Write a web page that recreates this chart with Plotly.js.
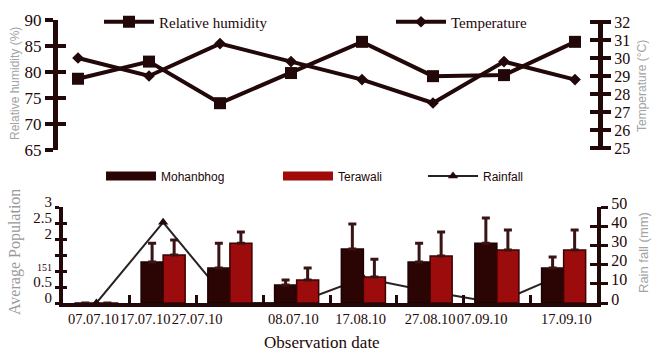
<!DOCTYPE html>
<html><head><meta charset="utf-8">
<script src="https://cdn.plot.ly/plotly-3.0.1.min.js"></script>
<style>html,body{margin:0;padding:0;background:#fff}#chart{width:652px;height:352px}</style>
</head><body><div id="chart"></div>
<script>
// ---- data ----
const dates = ["07.07.10","17.07.10","27.07.10","08.07.10","17.08.10","27.08.10","07.09.10","17.09.10"];
const humidity = [78.7, 82, 74, 79.8, 85.8, 79.2, 79.4, 85.8];        // %
const temperature = [30.0, 29.0, 30.8, 29.8, 28.8, 27.5, 29.8, 28.8]; // °C
const mohanbhog = [0, 1.28, 1.09, 0.56, 1.69, 1.28, 1.87, 1.09];
const mohanbhogErr = [0, 0.59, 0.78, 0.16, 0.78, 0.59, 0.79, 0.35];
const terawali = [0, 1.5, 1.87, 0.72, 0.81, 1.47, 1.66, 1.66];
const terawaliErr = [0, 0.47, 0.35, 0.37, 0.56, 0.75, 0.62, 0.62];
const rainfall = [0, 42, 0, 0, 13, 6, 0, 15];                         // mm
const rhTicks = [65, 70, 75, 80, 85, 90];
const tempTicks = [25, 26, 27, 28, 29, 30, 31, 32];
const popTicks = [0, 0.5, 1, 1.5, 2, 2.5, 3];
const popTickText = ["0", "0.5", '<span style="font-size:10px">151</span>', "", "2", "2.5", "3"];
const rainTicks = [0, 10, 20, 30, 40, 50];

// ---- styling ----
const W = 652, H = 352;
const px = p => p / W, py = p => 1 - p / H;
const dark = '#220808';
const serif = 'Liberation Serif, Times New Roman, serif';
const sans = 'Liberation Sans, Arial, sans-serif';
const idx = dates.map((d, i) => i);
const zeros = dates.map(() => 0);

const traces = [
  {type:'scatter', mode:'lines+markers', name:'Relative humidity', x: idx, y: humidity,
   xaxis:'x', yaxis:'y', line:{color:dark, width:4}, marker:{symbol:'square', size:12, color:dark},
   legend:'legend', hoverinfo:'skip'},
  {type:'scatter', mode:'lines+markers', name:'Temperature', x: idx, y: temperature,
   xaxis:'x', yaxis:'y2', line:{color:dark, width:4}, marker:{symbol:'diamond', size:9, color:dark},
   legend:'legend2', hoverinfo:'skip'},
  // bottom panel: rainfall on base axis (drawn behind bars)
  {type:'scatter', mode:'lines+markers', name:'Rainfall', x: idx, y: rainfall,
   xaxis:'x2', yaxis:'y3', line:{color:'#2a2222', width:2}, marker:{symbol:'triangle-up', size:9, color:dark},
   legend:'legend5', hoverinfo:'skip', cliponaxis:false},
  {type:'bar', name:'Mohanbhog', x: idx, y: mohanbhog, xaxis:'x2', yaxis:'y4',
   marker:{color:'#2b0404', line:{color:'#1c0202', width:1.5}},
   error_y:{type:'data', symmetric:false, array: mohanbhogErr, arrayminus: zeros, color:'#3a1414', thickness:3, width:4},
   showlegend:false, hoverinfo:'skip'},
  {type:'bar', name:'Terawali', x: idx, y: terawali, xaxis:'x2', yaxis:'y4',
   marker:{color:'#9c0c0c', line:{color:'#3a0303', width:1.5}},
   error_y:{type:'data', symmetric:false, array: terawaliErr, arrayminus: zeros, color:'#3a1414', thickness:3, width:4},
   showlegend:false, hoverinfo:'skip'},
  // legend swatches for the bar series
  {type:'scatter', mode:'lines', name:'Mohanbhog', x:[null], y:[null], xaxis:'x2', yaxis:'y4',
   line:{color:'#2b0404', width:9}, legend:'legend3', hoverinfo:'skip'},
  {type:'scatter', mode:'lines', name:'Terawali', x:[null], y:[null], xaxis:'x2', yaxis:'y4',
   line:{color:'#a00a0a', width:9}, legend:'legend4', hoverinfo:'skip'},
  // carriers for inward tick halves
  {type:'scatter', x:[], y:[], xaxis:'x', yaxis:'y5', showlegend:false, hoverinfo:'skip'},
  {type:'scatter', x:[], y:[], xaxis:'x', yaxis:'y6', showlegend:false, hoverinfo:'skip'},
  {type:'scatter', x:[], y:[], xaxis:'x2', yaxis:'y7', showlegend:false, hoverinfo:'skip'},
  {type:'scatter', x:[], y:[], xaxis:'x2', yaxis:'y8', showlegend:false, hoverinfo:'skip'}
];

const axBase = {showgrid:false, zeroline:false, showline:true, linecolor:dark, tickcolor:dark, fixedrange:true};
const topDom = [py(150), py(20)];
const botDom = [py(303), py(207)];
const legBase = {bgcolor:'rgba(0,0,0,0)', borderwidth:0, xanchor:'left', yanchor:'middle', itemwidth:50,
                 itemclick:false, itemdoubleclick:false};

const layout = {
  width: W, height: H, margin:{l:0, r:0, t:0, b:0}, paper_bgcolor:'#fff', plot_bgcolor:'rgba(0,0,0,0)',
  barmode:'group', bargap:0.34, bargroupgap:0, hovermode:false,
  font:{family:serif, color:dark},
  xaxis:{domain:[px(58), px(598)], anchor:'y', range:[-0.282, 7.324], visible:false, fixedrange:true},
  yaxis:Object.assign({}, axBase, {domain:topDom, anchor:'x', side:'left', range:[65, 90], tickmode:'array', tickvals:rhTicks,
        ticks:'outside', ticklen:8, tickwidth:4, linewidth:5, tickfont:{family:serif, size:17, color:dark}}),
  yaxis2:Object.assign({}, axBase, {overlaying:'y', anchor:'x', side:'right', range:[24.89, 32.11], tickmode:'array', tickvals:tempTicks,
        ticks:'outside', ticklen:8, tickwidth:4, linewidth:5, tickfont:{family:serif, size:16, color:dark}}),
  yaxis5:Object.assign({}, axBase, {overlaying:'y', anchor:'x', side:'left', range:[65, 90], tickmode:'array', tickvals:rhTicks,
        ticks:'inside', ticklen:8, tickwidth:4, showline:false, showticklabels:false}),
  yaxis6:Object.assign({}, axBase, {overlaying:'y', anchor:'x', side:'right', range:[24.89, 32.11], tickmode:'array', tickvals:tempTicks,
        ticks:'inside', ticklen:8, tickwidth:4, showline:false, showticklabels:false}),
  xaxis2:Object.assign({}, axBase, {domain:[px(63), px(597)], anchor:'y3', range:[-0.5, 7.5], tickmode:'array',
        tickvals:[-0.045, 0.73, 1.51, 2.95, 3.96, 5.0, 5.78, 7.04], ticktext:dates, ticks:'', linewidth:4, tickangle:0,
        ticklabelstandoff:0, tickfont:{family:serif, size:14.5, color:dark},
        minor:{tickvals:[0.5, 1.5, 2.5, 3.5, 4.5, 5.5, 6.5], ticks:'inside', ticklen:8, tickwidth:3, tickcolor:dark}}),
  yaxis3:Object.assign({}, axBase, {domain:botDom, anchor:'x2', side:'right', range:[0, 50], tickmode:'array', tickvals:rainTicks,
        ticks:'outside', ticklen:7, tickwidth:3, linewidth:4, ticklabelshift:-4, tickfont:{family:serif, size:16, color:dark}}),
  yaxis4:Object.assign({}, axBase, {overlaying:'y3', anchor:'x2', side:'left', range:[0, 3], tickmode:'array', tickvals:popTicks,
        ticktext:popTickText, ticks:'outside', ticklen:4, tickwidth:3, linewidth:4, ticklabelshift:-5,
        tickfont:{family:serif, size:15, color:dark}}),
  yaxis7:Object.assign({}, axBase, {overlaying:'y3', anchor:'x2', side:'right', range:[0, 50], tickmode:'array', tickvals:rainTicks,
        ticks:'inside', ticklen:7, tickwidth:3, showline:false, showticklabels:false}),
  yaxis8:Object.assign({}, axBase, {overlaying:'y3', anchor:'x2', side:'left', range:[0, 3], tickmode:'array', tickvals:popTicks,
        ticks:'inside', ticklen:4, tickwidth:3, showline:false, showticklabels:false}),
  legend: Object.assign({}, legBase, {x:px(99), y:py(22), font:{family:serif, size:15, color:dark}}),
  legend2:Object.assign({}, legBase, {x:px(391), y:py(22), font:{family:serif, size:15, color:dark}}),
  legend3:Object.assign({}, legBase, {x:px(101), y:py(176), font:{family:sans, size:12, color:dark}}),
  legend4:Object.assign({}, legBase, {x:px(278), y:py(176), font:{family:sans, size:12, color:dark}}),
  legend5:Object.assign({}, legBase, {x:px(423), y:py(176), font:{family:sans, size:12, color:dark}}),
  annotations:[
    {text:'Relative humidity (%)', xref:'paper', yref:'paper', x:px(15), y:py(84), textangle:-90, showarrow:false,
     xanchor:'center', yanchor:'middle', font:{family:sans, size:12, color:'#a3a3a3'}},
    {text:'Temperature (°C)', xref:'paper', yref:'paper', x:px(642), y:py(86), textangle:-90, showarrow:false,
     xanchor:'center', yanchor:'middle', font:{family:sans, size:12, color:'#a3a3a3'}},
    {text:'Average Population', xref:'paper', yref:'paper', x:px(15), y:py(252), textangle:-90, showarrow:false,
     xanchor:'center', yanchor:'middle', font:{family:serif, size:16, color:'#999999'}},
    {text:'Rain fall (mm)', xref:'paper', yref:'paper', x:px(643), y:py(253), textangle:-90, showarrow:false,
     xanchor:'center', yanchor:'middle', font:{family:sans, size:13, color:'#a3a3a3'}},
    {text:'Observation date', xref:'paper', yref:'paper', x:px(322), y:py(342), showarrow:false,
     xanchor:'center', yanchor:'middle', font:{family:serif, size:17, color:dark}}
  ]
};

Plotly.newPlot('chart', traces, layout, {displayModeBar:false, staticPlot:true});
</script>
</body></html>
